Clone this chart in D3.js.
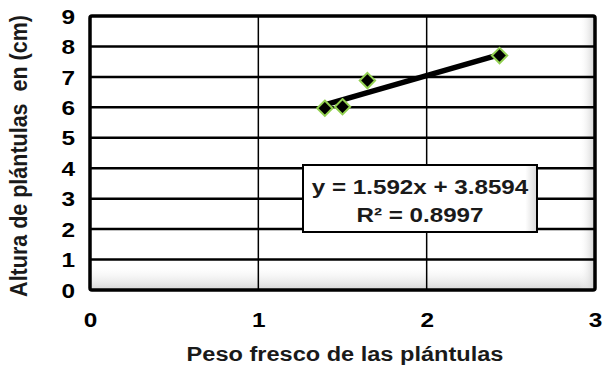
<!DOCTYPE html>
<html>
<head>
<meta charset="utf-8">
<script src="https://cdn.jsdelivr.net/npm/d3@7"></script>
<style>
  html, body { margin: 0; padding: 0; background: #fff; }
  svg { display: block; font-family: Arial, "Liberation Sans", sans-serif; }
</style>
</head>
<body>
<svg id="chart" width="608" height="369"></svg>
<script>
// Fresh weight vs. seedling height
const pesoFresco = [1.395, 1.5, 1.648, 2.433];
const altura = [5.97, 6.02, 6.88, 7.70];
const xTicks = [0, 1, 2, 3];
const yTicks = [0, 1, 2, 3, 4, 5, 6, 7, 8, 9];
const slope = 1.592;
const intercept = 3.8594;
const r2 = 0.8997;

const svg = d3.select("#chart");
const m = { left: 90, right: 595, top: 16, bottom: 290 };
const stretch = 1.22; // wide lettering

const x = d3.scaleLinear().domain([0, 3]).range([m.left, m.right]);
const y = d3.scaleLinear().domain([0, 9]).range([m.bottom, m.top]);

const defs = svg.append("defs");
const gB = defs.append("linearGradient").attr("id", "shadeB").attr("x1", 0).attr("y1", 0).attr("x2", 0).attr("y2", 1);
gB.append("stop").attr("offset", "0%").attr("stop-color", "#fff").attr("stop-opacity", 0);
gB.append("stop").attr("offset", "100%").attr("stop-color", "#d4d4d4").attr("stop-opacity", 1);
const gR = defs.append("linearGradient").attr("id", "shadeR").attr("x1", 0).attr("y1", 0).attr("x2", 1).attr("y2", 0);
gR.append("stop").attr("offset", "0%").attr("stop-color", "#fff").attr("stop-opacity", 0);
gR.append("stop").attr("offset", "100%").attr("stop-color", "#cfcfcf").attr("stop-opacity", 1);

// Plot area with soft bevel at the bottom and right edges
svg.append("rect").attr("x", m.left).attr("y", m.top)
  .attr("width", m.right - m.left).attr("height", m.bottom - m.top).attr("fill", "#fff");
svg.append("rect").attr("x", m.left).attr("y", m.bottom - 26)
  .attr("width", m.right - m.left).attr("height", 26).attr("fill", "url(#shadeB)");
svg.append("rect").attr("x", m.right - 16).attr("y", m.top)
  .attr("width", 16).attr("height", m.bottom - m.top).attr("fill", "url(#shadeR)");

// Gridlines
svg.append("g").selectAll("line").data(yTicks.slice(1, -1)).join("line")
  .attr("x1", m.left).attr("x2", m.right)
  .attr("y1", d => y(d)).attr("y2", d => y(d))
  .attr("stroke", "#000").attr("stroke-width", 2.5);
svg.append("g").selectAll("line").data(xTicks.slice(1, -1)).join("line")
  .attr("y1", m.top).attr("y2", m.bottom)
  .attr("x1", d => x(d)).attr("x2", d => x(d))
  .attr("stroke", "#000").attr("stroke-width", 1.5);

// Frame
svg.append("rect").attr("x", m.left).attr("y", m.top)
  .attr("width", m.right - m.left).attr("height", m.bottom - m.top)
  .attr("rx", 2).attr("fill", "none").attr("stroke", "#000").attr("stroke-width", 3.5);

// Axes
const yAxis = svg.append("g").attr("transform", `translate(${m.left - 15},0)`)
  .call(d3.axisLeft(y).tickValues(yTicks).tickFormat(d3.format("d")).tickSize(0).tickPadding(0));
yAxis.select(".domain").remove();
yAxis.selectAll("text").attr("font-size", 20).attr("font-weight", "bold").attr("fill", "#000")
  .attr("dy", "0.36em").attr("transform", `scale(${stretch},1)`);

const xAxis = svg.append("g").attr("transform", `translate(0,${m.bottom + 23})`)
  .call(d3.axisBottom(x).tickValues(xTicks).tickFormat(d3.format("d")).tickSize(0).tickPadding(0));
xAxis.select(".domain").remove();
xAxis.selectAll("text").attr("font-size", 20).attr("font-weight", "bold").attr("fill", "#000")
  .attr("dy", "0.72em").attr("transform", `scale(${stretch},1)`);

// Trendline from the stated equation
const xs = d3.extent(pesoFresco);
svg.append("line")
  .attr("x1", x(xs[0])).attr("y1", y(slope * xs[0] + intercept))
  .attr("x2", x(xs[1])).attr("y2", y(slope * xs[1] + intercept))
  .attr("stroke", "#000").attr("stroke-width", 5.5);

// Markers
svg.append("g").selectAll("path").data(pesoFresco).join("path")
  .attr("d", d3.symbol(d3.symbolDiamond2, 150))
  .attr("transform", (d, i) => `translate(${x(d)},${y(altura[i])})`)
  .attr("fill", "#000").attr("stroke", "#92d050").attr("stroke-width", 2);

// Equation label
const bx = 303, by = 165, bw = 234, bh = 67;
const gE = defs.append("linearGradient").attr("id", "boxShade").attr("x1", 0).attr("y1", 0).attr("x2", 1).attr("y2", 0);
gE.append("stop").attr("offset", "0%").attr("stop-color", "#fff");
gE.append("stop").attr("offset", "95%").attr("stop-color", "#fff");
gE.append("stop").attr("offset", "100%").attr("stop-color", "#d8d8d8");
svg.append("rect").attr("x", bx).attr("y", by).attr("width", bw).attr("height", bh)
  .attr("fill", "url(#boxShade)").attr("stroke", "#000").attr("stroke-width", 2);

function wideText(cx, cy, size, k, str) {
  svg.append("text")
    .attr("transform", `translate(${cx},${cy}) scale(${k},1)`)
    .attr("text-anchor", "middle").attr("font-size", size).attr("font-weight", "bold").attr("fill", "#1a1a1a")
    .text(str);
}
wideText(bx + bw / 2, by + 29, 20.5, 1.18, `y = ${slope}x + ${intercept}`);
wideText(bx + bw / 2, by + 57, 20.5, 1.18, `R² = ${r2}`);

// Axis titles
wideText(345, 361, 20.5, 1.15, "Peso fresco de las plántulas");
svg.append("text").attr("transform", "translate(27,156) rotate(-90) scale(1,1.15)")
  .attr("text-anchor", "middle").attr("font-size", 21.5).attr("font-weight", "bold").attr("fill", "#1a1a1a")
  .style("white-space", "pre")
  .text("Altura de plántulas  en (cm)");
</script>
</body>
</html>
